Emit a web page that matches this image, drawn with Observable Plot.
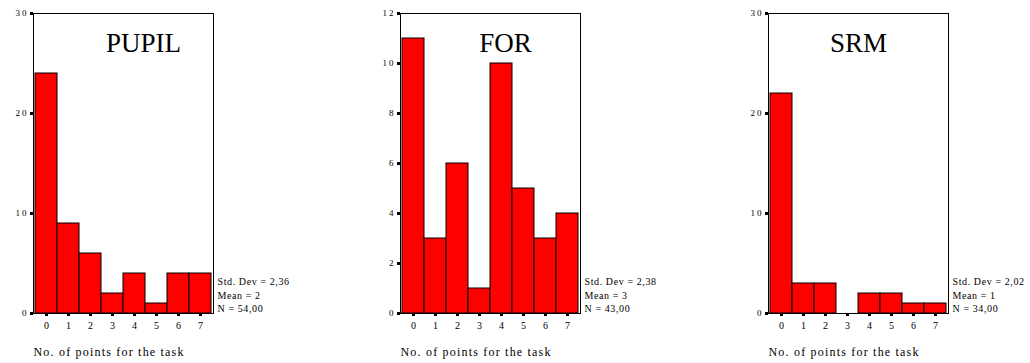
<!DOCTYPE html>
<html><head><meta charset="utf-8">
<script src="https://cdn.jsdelivr.net/npm/d3@7"></script>
<script src="https://cdn.jsdelivr.net/npm/@observablehq/plot@0.6"></script>
<style>
body{margin:0;background:#fff;}
#wrap{position:relative;width:1030px;height:363px;overflow:hidden;background:#fff;}
#wrap svg{position:absolute;top:0;overflow:visible;}
#wrap svg, #wrap svg text{font-family:"Liberation Serif", "Times New Roman", serif !important;}
#wrap g[aria-label="y-axis tick label"] text{letter-spacing:2px;}
#wrap g.stats text{letter-spacing:0.6px;}
#wrap g.xlab text{letter-spacing:1.2px;}
</style></head><body><div id="wrap"></div>
<script>
const points = [0, 1, 2, 3, 4, 5, 6, 7];
const groups = ["PUPIL", "FOR", "SRM"];
const pupilCounts = [24, 9, 6, 2, 4, 1, 4, 4];
const forCounts = [11, 3, 6, 1, 10, 5, 3, 4];
const srmCounts = [22, 3, 3, 0, 2, 2, 1, 1];
const yMax = [30, 12, 30];
const yTicks = [[0, 10, 20, 30], [0, 2, 4, 6, 8, 10, 12], [0, 10, 20, 30]];
const stdDevs = ["2,36", "2,38", "2,02"];
const means = ["2", "3", "1"];
const ns = ["54,00", "43,00", "34,00"];
const xLabel = "No. of points for the task";

const counts = [pupilCounts, forCounts, srmCounts];
const layout = [
  {left: 0, marginLeft: 33, titleDx: 20},
  {left: 360, marginLeft: 40, titleDx: 15},
  {left: 728, marginLeft: 40, titleDx: 0}
];
const wrap = document.getElementById("wrap");

groups.forEach((name, i) => {
  const L = layout[i];
  const frameW = 180;
  const width = L.marginLeft + frameW + 100;
  const data = points.map((p, j) => ({p, n: counts[i][j]}));
  const stats = `Std. Dev = ${stdDevs[i]}\nMean = ${means[i]}\nN = ${ns[i]}`;
  const svg = Plot.plot({
    width,
    height: 363,
    marginLeft: L.marginLeft,
    marginRight: 100,
    marginTop: 13,
    marginBottom: 50,
    style: {color: "black", background: "transparent", overflow: "visible"},
    x: {type: "band", domain: points, padding: 0},
    y: {domain: [0, yMax[i]]},
    marks: [
      Plot.barY(data, {x: "p", y: "n", fill: "#ff0000", stroke: "black", strokeWidth: 1, inset: 0}),
      Plot.frame({stroke: "black", strokeWidth: 1}),
      Plot.axisY({ticks: yTicks[i], tickSize: 3, strokeWidth: 3, tickPadding: 2, fontSize: 9, label: null}),
      Plot.axisX({tickSize: 3, strokeWidth: 3, tickPadding: 5, fontSize: 10, label: null}),
      Plot.text([name], {frameAnchor: "top", dx: L.titleDx, dy: 30, fontSize: 27, lineAnchor: "middle", fill: "black"}),
      Plot.text([stats], {frameAnchor: "bottom-right", dx: 4, dy: -19, textAnchor: "start", lineAnchor: "middle", lineHeight: 1.35, fontSize: 10, fill: "black", className: "stats"}),
      Plot.text([xLabel], {frameAnchor: "bottom-left", dy: 39, textAnchor: "start", lineAnchor: "middle", fontSize: 12, fill: "black", className: "xlab"})
    ]
  });
  svg.style.left = L.left + "px";
  wrap.appendChild(svg);
});
</script>
</body></html>
